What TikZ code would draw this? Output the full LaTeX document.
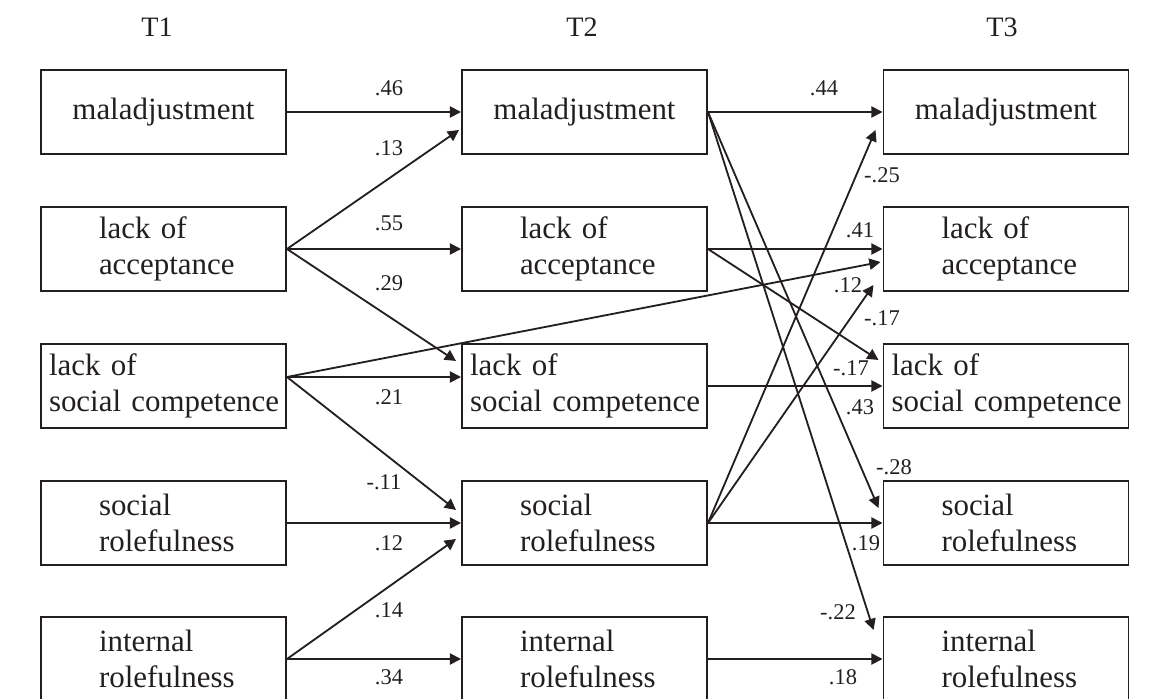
\documentclass[tikz,border=0pt]{standalone}
\usepackage{fontspec}
\setmainfont{Liberation Serif}
\usetikzlibrary{arrows.meta}
\definecolor{cInk}{RGB}{35,31,32}

\newcommand{\ind}{\hspace*{1.25cm}}

\begin{document}
\begin{tikzpicture}[font=\fontsize{22}{26}\selectfont, text=cInk]

%% -- shared styles ----------------------------------------------------------
\tikzset{
  var/.style={
    rectangle, draw=cInk, line width=1.4pt,
    minimum width=6.125cm, minimum height=2.1cm,
    text width=5.725cm, inner xsep=0.2cm, align=left
  },
  ttl/.style={font=\fontsize{20}{24}\selectfont},
  wgt/.style={font=\fontsize{16}{18}\selectfont, inner sep=0pt},
  arr/.style={-{Triangle[length=2.8mm,width=2.8mm]}, line width=1.3pt, draw=cInk},
}

\useasboundingbox (0,0) rectangle (28.975,-17.475);
\clip (0,0) rectangle (28.975,-17.475);

%% -- column x-centres -------------------------------------------------------
\def\cA{4.0875}
\def\cB{14.6125}
\def\cC{25.15}

%% -- titles ---------------------------------------------------------------
\node[ttl] (T1) at (3.925,-0.68) {T1};
\node[ttl] (T2) at (14.55,-0.68) {T2};
\node[ttl] (T3) at (25.05,-0.68) {T3};

%% -- T1 -------------------------------------------------------------------
\node[var, align=center] (M1) at (\cA,-2.800) {maladjustment};
\node[var]               (A1) at (\cA,-6.225) {\ind lack of\\\ind acceptance};
\node[var]               (C1) at (\cA,-9.650) {lack of\\\mbox{social competence}};
\node[var]               (R1) at (\cA,-13.075) {\ind social\\\ind rolefulness};
\node[var]               (I1) at (\cA,-16.475) {\ind internal\\\ind rolefulness};

%% -- T2 -------------------------------------------------------------------
\node[var, align=center] (M2) at (\cB,-2.800) {maladjustment};
\node[var]               (A2) at (\cB,-6.225) {\ind lack of\\\ind acceptance};
\node[var]               (C2) at (\cB,-9.650) {lack of\\\mbox{social competence}};
\node[var]               (R2) at (\cB,-13.075) {\ind social\\\ind rolefulness};
\node[var]               (I2) at (\cB,-16.475) {\ind internal\\\ind rolefulness};

%% -- T3 -------------------------------------------------------------------
\node[var, align=center] (M3) at (\cC,-2.800) {maladjustment};
\node[var]               (A3) at (\cC,-6.225) {\ind lack of\\\ind acceptance};
\node[var]               (C3) at (\cC,-9.650) {lack of\\\mbox{social competence}};
\node[var]               (R3) at (\cC,-13.075) {\ind social\\\ind rolefulness};
\node[var]               (I3) at (\cC,-16.475) {\ind internal\\\ind rolefulness};

\coordinate (C1out) at ([yshift=0.225cm]C1.east);

%% -- paths T1 -> T2 -------------------------------------------------------
\draw[arr] (M1.east) -- (M2.west);
\draw[arr] (A1.east) -- ([xshift=-0.05cm,yshift=-0.45cm]M2.west);
\draw[arr] (A1.east) -- (A2.west);
\draw[arr] (A1.east) -- ([xshift=-0.125cm,yshift=0.625cm]C2.west);
\draw[arr] (C1out) -- ([xshift=-0.05cm,yshift=-0.325cm]A3.west);
\draw[arr] (C1out) -- ([yshift=0.225cm]C2.west);
\draw[arr] (C1out) -- ([xshift=-0.125cm,yshift=0.325cm]R2.west);
\draw[arr] (R1.east) -- (R2.west);
\draw[arr] (I1.east) -- ([xshift=-0.125cm,yshift=-0.4cm]R2.west);
\draw[arr] (I1.east) -- (I2.west);

%% -- paths T2 -> T3 -------------------------------------------------------
\draw[arr] (M2.east) -- (M3.west);
\draw[arr] (M2.east) -- ([xshift=-0.1cm,yshift=0.375cm]R3.west);
\draw[arr] (M2.east) -- ([xshift=-0.225cm,yshift=0.725cm]I3.west);
\draw[arr] (A2.east) -- (A3.west);
\draw[arr] (A2.east) -- ([xshift=-0.1cm,yshift=0.65cm]C3.west);
\draw[arr] (C2.east) -- (C3.west);
\draw[arr] (R2.east) -- ([xshift=-0.175cm,yshift=-0.45cm]M3.west);
\draw[arr] (R2.east) -- ([xshift=-0.225cm,yshift=-0.9cm]A3.west);
\draw[arr] (R2.east) -- (R3.west);
\draw[arr] (I2.east) -- (I3.west);

%% -- path weights ---------------------------------------------------------
\node[wgt] (w01) at (9.725,-2.2)   {.46};
\node[wgt] (w02) at (9.725,-3.7)   {.13};
\node[wgt] (w03) at (9.725,-5.575) {.55};
\node[wgt] (w04) at (9.725,-7.075) {.29};
\node[wgt] (w05) at (9.725,-9.925) {.21};
\node[wgt] (w06) at (9.6,-12.05)   {-.11};
\node[wgt] (w07) at (9.725,-13.575) {.12};
\node[wgt] (w08) at (9.725,-15.25) {.14};
\node[wgt] (w09) at (9.725,-16.925) {.34};

\node[wgt] (w10) at (20.6,-2.2)    {.44};
\node[wgt] (w11) at (22.05,-4.375) {-.25};
\node[wgt] (w12) at (21.5,-5.75)   {.41};
\node[wgt] (w13) at (21.2,-7.125)  {.12};
\node[wgt] (w14) at (22.05,-7.95)  {-.17};
\node[wgt] (w15) at (21.275,-9.2)  {-.17};
\node[wgt] (w16) at (21.5,-10.175) {.43};
\node[wgt] (w17) at (22.35,-11.675) {-.28};
\node[wgt] (w18) at (21.65,-13.575) {.19};
\node[wgt] (w19) at (20.95,-15.3)  {-.22};
\node[wgt] (w20) at (21.075,-16.925) {.18};

\end{tikzpicture}
\end{document}
